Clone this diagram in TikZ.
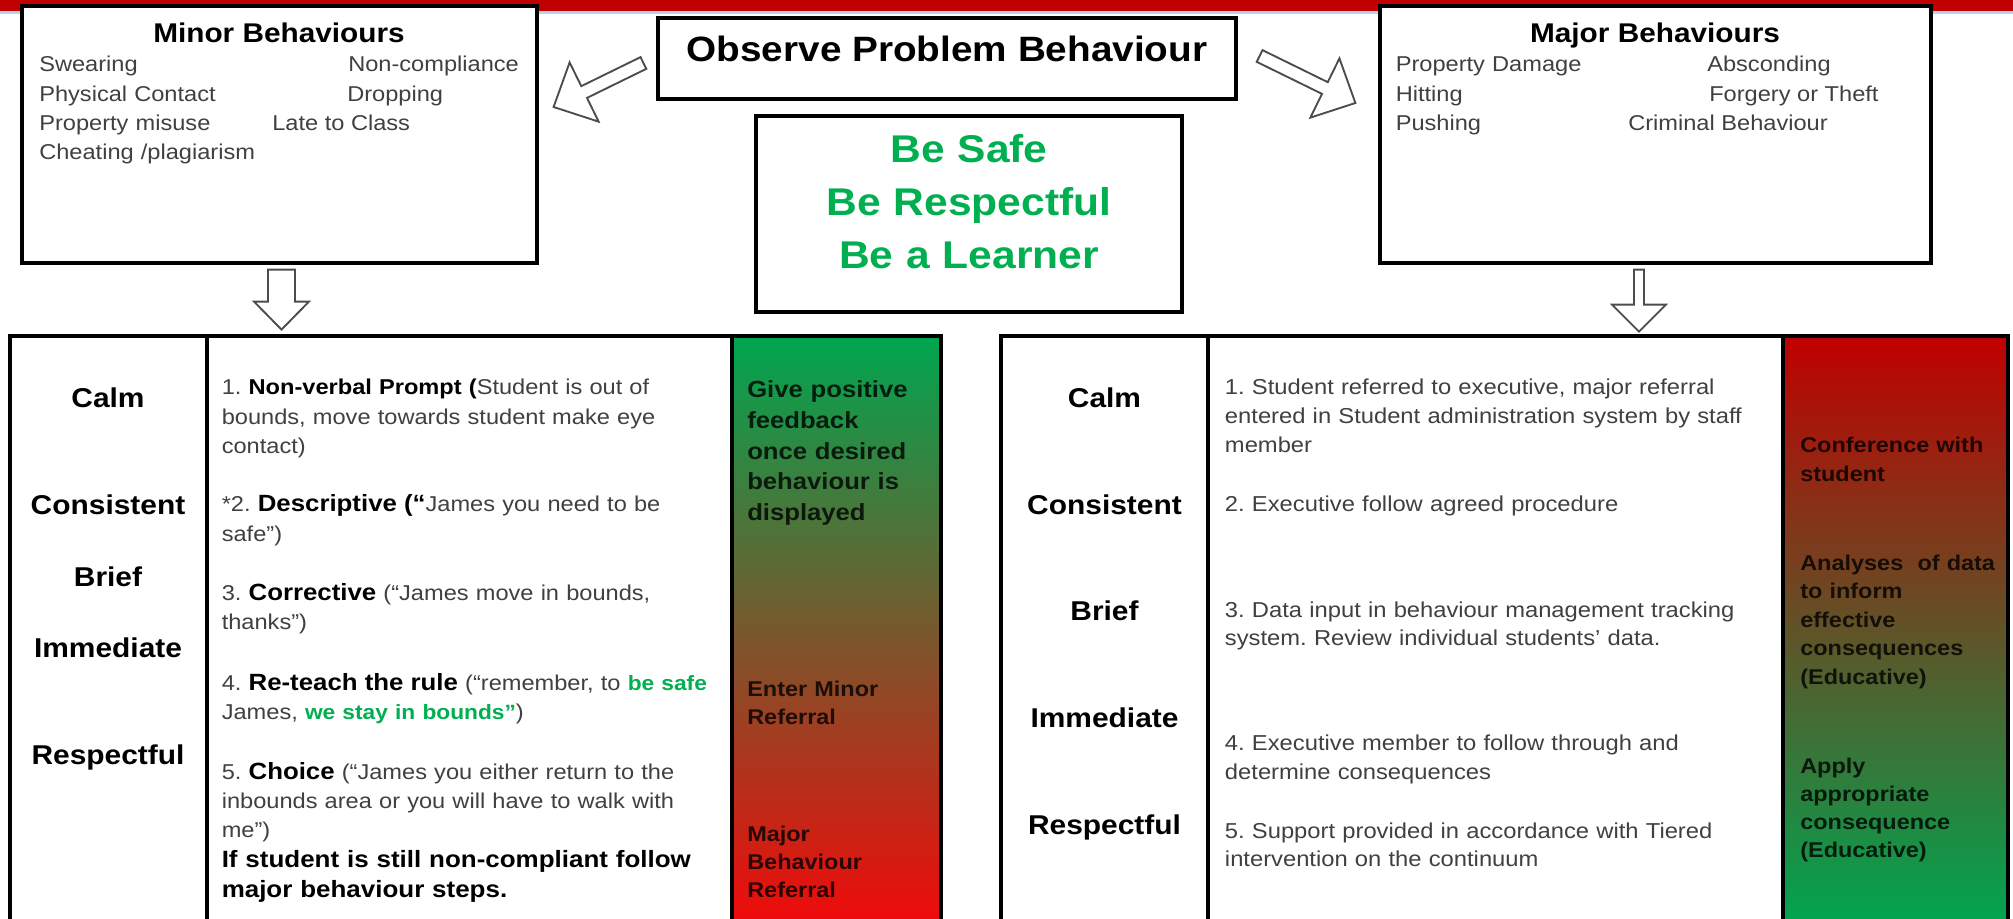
\documentclass[tikz,border=0pt]{standalone}
\usepackage{fontspec}
\setmainfont{Liberation Sans}[FakeStretch=1.1]
\usetikzlibrary{calc}
\frenchspacing

\definecolor{barred}{RGB}{192,0,0}
\definecolor{barblue}{RGB}{184,210,236}
\definecolor{rulegreen}{RGB}{0,176,80}
\definecolor{greytext}{RGB}{64,64,64}
\definecolor{shgreen}{RGB}{0,166,80}
\definecolor{shred}{RGB}{240,10,10}
\definecolor{shdarkred}{RGB}{192,0,0}

\newcommand{\fsz}[2]{\fontsize{#1}{#2}\selectfont}
\newcommand{\stepname}[1]{{\color{black}\bfseries\fsz{17.6pt}{21.9pt}#1}}
\newcommand{\greenword}[1]{{\color{rulegreen}\bfseries\fsz{15.5pt}{21.9pt}#1}}
% hollow block arrow: tail, tip, shaft half width, head half width, head length
\newcommand{\blockarrow}[5]{%
  \coordinate (bh) at ($(#2)!#5!(#1)$);
  \draw[hollow] ($(#1)!#3!90:(#2)$) -- ($(bh)!#3!-90:(#1)$) -- ($(bh)!#4!-90:(#1)$) -- (#2)
    -- ($(bh)!#4!90:(#1)$) -- ($(bh)!#3!90:(#1)$) -- ($(#1)!#3!-90:(#2)$) -- cycle;}

\begin{document}
\frenchspacing
\begin{tikzpicture}[x=0.75pt,y=-0.75pt,
    box/.style={draw=black, line width=2.4pt, fill=white, inner sep=0pt},
    cell/.style={draw=black, line width=2.4pt, fill=white, inner sep=0pt, minimum height=441.75pt},
    hollow/.style={draw=black!70, line width=1.4pt, fill=white, line join=miter},
    boxhead/.style={anchor=base, inner sep=0pt, font=\bfseries\fsz{20.3pt}{24pt}},
    item/.style={anchor=base west, inner sep=0pt, text=greytext, font=\fsz{16.1pt}{21.975pt}},
    itemlist/.style={item, align=left, text width=200pt},
    rowname/.style={anchor=base, inner sep=0pt, font=\bfseries\fsz{20.4pt}{24pt}},
    steptext/.style={anchor=base west, inner sep=0pt, align=left, text=greytext},
    gradtext/.style={anchor=base west, inner sep=0pt, align=left, text width=150pt, text=black, text opacity=0.8}]
                    \useasboundingbox (0,0) rectangle (2013,919);
                    % Top bar
                    \fill[barred] (0,0) rectangle (2013,11);
                    \fill[barblue] (0,11) rectangle (2013,14);
                    % Boxes
                    \node[box, minimum width=386.25pt, minimum height=192.75pt] (minor) at (279.5,134.5) {};
                    \node[box, minimum width=433.5pt, minimum height=60.75pt] (observe) at (947,58.5) {};
                    \node[box, minimum width=319.5pt, minimum height=147pt] (safe) at (969,214) {};
                    \node[box, minimum width=413.25pt, minimum height=192.75pt] (major) at (1655.5,134.5) {};
                    % Observe and rules
                    \node[anchor=base, inner sep=0pt, font=\bfseries\fsz{26.4pt}{30pt}] (observeT) at (947,62) {Observe Problem Behaviour};
                    \node[anchor=base, inner sep=0pt, align=center, text width=300pt, text=rulegreen, font=\bfseries\fsz{29pt}{39.4pt}] (safeT) at (969,163) {Be Safe\\Be Respectful\\Be a Learner};
                    % Minor behaviours
                    \node[boxhead] (minorT) at (279,43) {Minor Behaviours};
                    \node[itemlist] (minorL) at (39,72) {Swearing\\Physical Contact\\Property misuse\\Cheating /plagiarism};
                    \node[item] (minorA) at (348,72) {Non-compliance};
                    \node[item] (minorB) at (347,101.3) {Dropping};
                    \node[item] (minorC) at (272,130.6) {Late to Class};
                    % Major behaviours
                    \node[boxhead] (majorT) at (1655,43) {Major Behaviours};
                    \node[itemlist] (majorL) at (1395.5,72) {Property Damage\\Hitting\\Pushing};
                    \node[item] (majorA) at (1707,72) {Absconding};
                    \node[item] (majorB) at (1709,101.3) {Forgery or Theft};
                    \node[item] (majorC) at (1628,130.6) {Criminal Behaviour};
                    % Arrows
                    \coordinate (arrL1) at ($(observe.west)+(-13,4.5)$);
                    \coordinate (arrL2) at ($(minor.east)+(15,-27.5)$);
                    \coordinate (arrR1) at ($(observe.east)+(22,-2.5)$);
                    \coordinate (arrR2) at ($(major.west)+(-23,-31.5)$);
                    \coordinate (arrD1) at ($(minor.south)+(2,5)$);
                    \coordinate (arrD2) at ($(minor.south)+(2,65)$);
                    \coordinate (arrE1) at ($(major.south)+(-16.5,5)$);
                    \coordinate (arrE2) at ($(major.south)+(-16.5,67)$);
                    \blockarrow{arrL1}{arrL2}{4.9pt}{24.75pt}{25.5pt}
                    \blockarrow{arrR1}{arrR2}{4.9pt}{24.75pt}{25.5pt}
                    \blockarrow{arrD1}{arrD2}{10.1pt}{20.6pt}{21pt}
                    \blockarrow{arrE1}{arrE2}{3.75pt}{20.25pt}{20.25pt}
                    % Minor table
                    \node[cell, minimum width=147.75pt] (lcol1) at (108.5,630.5) {};
                    \node[cell, minimum width=393.75pt] (lcol2) at (469.5,630.5) {};
                    \node[cell, minimum width=156.75pt, top color=shgreen, bottom color=shred] (lcol3) at (836.5,630.5) {};
                    \node[rowname] (lCalm) at (108,408) {Calm};
                    \node[rowname] (lCons) at (108,514) {Consistent};
                    \node[rowname] (lBrief) at (108,586) {Brief};
                    \node[rowname] (lImm) at (108,657) {Immediate};
                    \node[rowname] (lResp) at (108,764) {Respectful};
                    \node[steptext, text width=380pt, font=\fsz{16.1pt}{21.9pt}] (lS1) at (221.5,395) {1. {\color{black}\bfseries Non-verbal Prompt (}Student is out of\\bounds, move towards student make eye\\contact)};
                    \node[steptext, text width=380pt, font=\fsz{16.1pt}{21.9pt}] (lS2) at (221.5,512) {*2. \stepname{Descriptive (“}James you need to be\\safe”)};
                    \node[steptext, text width=380pt, font=\fsz{16.1pt}{21.9pt}] (lS3) at (221.5,600) {3. \stepname{Corrective} (“James move in bounds,\\thanks”)};
                    \node[steptext, text width=380pt, font=\fsz{16.1pt}{21.9pt}] (lS4) at (221.5,690) {4. \stepname{Re-teach the rule} (“remember, to \greenword{be safe}\\James, \greenword{we stay in bounds”})};
                    \node[steptext, text width=380pt, font=\fsz{16.1pt}{21.9pt}] (lS5) at (221.5,779) {5. \stepname{Choice} (“James you either return to the\\inbounds area or you will have to walk with\\me”)};
                    \node[steptext, text width=380pt, text=black, font=\bfseries\fsz{17.7pt}{22.5pt}] (lS6) at (221.5,867) {If student is still non-compliant follow\\major behaviour steps.};
                    \node[gradtext, font=\bfseries\fsz{17.5pt}{22.9pt}] (lG1) at (747,398) {Give positive\\feedback\\once desired\\behaviour is\\displayed};
                    \node[gradtext, font=\bfseries\fsz{16pt}{21.4pt}] (lG2) at (747,696) {Enter Minor\\Referral};
                    \node[gradtext, font=\bfseries\fsz{16pt}{21.2pt}] (lG3) at (747,841) {Major\\Behaviour\\Referral};
                    % Major table
                    \node[cell, minimum width=155.25pt] (rcol1) at (1104.5,630.5) {};
                    \node[cell, minimum width=431.25pt] (rcol2) at (1495.5,630.5) {};
                    \node[cell, minimum width=168.75pt, top color=shdarkred, bottom color=shgreen] (rcol3) at (1895.5,630.5) {};
                    \node[rowname] (rCalm) at (1104.5,408) {Calm};
                    \node[rowname] (rCons) at (1104.5,515) {Consistent};
                    \node[rowname] (rBrief) at (1104.5,620) {Brief};
                    \node[rowname] (rImm) at (1104.5,727) {Immediate};
                    \node[rowname] (rResp) at (1104.5,834) {Respectful};
                    \node[steptext, text width=420pt, font=\fsz{16.2pt}{21.4pt}] (rS1) at (1224.7,395) {1. Student referred to executive, major referral\\entered in Student administration system by staff\\member};
                    \node[steptext, text width=420pt, font=\fsz{16.2pt}{21.4pt}] (rS2) at (1224.7,512) {2. Executive follow agreed procedure};
                    \node[steptext, text width=420pt, font=\fsz{16.2pt}{21.4pt}] (rS3) at (1224.7,617) {3. Data input in behaviour management tracking\\system. Review individual students’ data.};
                    \node[steptext, text width=420pt, font=\fsz{16.2pt}{21.4pt}] (rS4) at (1224.7,750.5) {4. Executive member to follow through and\\determine consequences};
                    \node[steptext, text width=420pt, font=\fsz{16.2pt}{21.4pt}] (rS5) at (1224.7,838) {5. Support provided in accordance with Tiered\\intervention on the continuum};
                    \node[gradtext, font=\bfseries\fsz{16pt}{21.2pt}] (rG1) at (1800,453) {Conference with\\student};
                    \node[gradtext, font=\bfseries\fsz{16pt}{21.4pt}] (rG2) at (1800,570) {Analyses\ \ of data\\to inform\\effective\\consequences\\(Educative)};
                    \node[gradtext, font=\bfseries\fsz{16pt}{21.2pt}] (rG3) at (1800,773) {Apply\\appropriate\\consequence\\(Educative)};
                \end{tikzpicture}
\end{document}
